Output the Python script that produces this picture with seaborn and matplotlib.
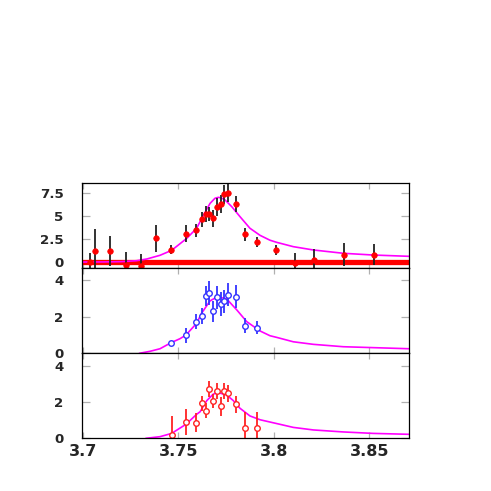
import matplotlib
matplotlib.use("Agg")
import matplotlib.pyplot as plt
import seaborn as sns
import pandas as pd

# ---- data ----
# top panel: data points (x, y, error)
top_x = [3.7035, 3.7065, 3.7144, 3.7225, 3.7305, 3.7382, 3.7463, 3.7542, 3.7593,
         3.7622, 3.7643, 3.7662, 3.7682, 3.7701, 3.7724, 3.7741, 3.7762, 3.7800,
         3.7851, 3.7910, 3.8010, 3.8111, 3.8210, 3.8368, 3.8526]
top_y = [0.00, 1.20, 1.25, -0.30, -0.35, 2.60, 1.37, 3.11, 3.47,
         4.67, 5.25, 5.22, 4.78, 6.01, 6.34, 7.39, 7.57, 6.34,
         3.04, 2.24, 1.37, -0.04, 0.30, 0.80, 0.83]
top_err = [1.00, 2.40, 1.60, 1.40, 1.30, 1.45, 0.50, 0.90, 0.70,
           0.78, 0.87, 0.75, 0.94, 0.94, 1.00, 1.05, 1.00, 0.87,
           0.70, 0.55, 0.55, 1.10, 1.20, 1.25, 1.12]
# top panel: fitted curve
top_curve_x = [3.6995, 3.7100, 3.7200, 3.7280, 3.7335, 3.7404, 3.7465, 3.7544, 3.7596,
               3.7631, 3.7666, 3.7692, 3.7709, 3.7725, 3.7745, 3.7780, 3.7823, 3.7875,
               3.7928, 3.7980, 3.8015, 3.8102, 3.8207, 3.8364, 3.8521, 3.8708]
top_curve_y = [0.03, 0.04, 0.07, 0.17, 0.36, 0.76, 1.30, 2.60, 3.70,
               5.10, 6.40, 6.96, 7.06, 7.00, 6.77, 6.04, 4.96, 3.70,
               2.93, 2.40, 2.17, 1.70, 1.34, 0.98, 0.79, 0.65]

# middle panel
mid_x = [3.7462, 3.7540, 3.7591, 3.7622, 3.7643, 3.7662, 3.7680, 3.7701, 3.7724,
         3.7741, 3.7762, 3.7800, 3.7851, 3.7910]
mid_y = [0.55, 0.98, 1.73, 2.04, 3.11, 3.31, 2.29, 3.05, 2.68,
         2.84, 3.19, 3.09, 1.51, 1.40]
mid_err = [0.12, 0.41, 0.43, 0.45, 0.55, 0.66, 0.59, 0.64, 0.64,
           0.64, 0.62, 0.64, 0.41, 0.36]
mid_curve_x = [3.7296, 3.7352, 3.7404, 3.7462, 3.7509, 3.7540, 3.7596, 3.7622,
               3.7666, 3.7705, 3.7753, 3.7806, 3.7858, 3.7928, 3.7980, 3.8015, 3.8102,
               3.8207, 3.8364, 3.8521, 3.8708]
mid_curve_y = [0.00, 0.11, 0.25, 0.58, 0.80, 1.00, 1.64, 2.19,
               2.86, 3.09, 2.97, 2.37, 1.73, 1.22, 0.96, 0.87, 0.63,
               0.49, 0.36, 0.31, 0.25]

# bottom panel
bot_x = [3.7465, 3.7540, 3.7593, 3.7622, 3.7643, 3.7662, 3.7682, 3.7701, 3.7724,
         3.7741, 3.7762, 3.7800, 3.7851, 3.7910]
bot_y = [0.20, 0.90, 0.86, 1.92, 1.51, 2.69, 2.05, 2.60, 1.77,
         2.60, 2.47, 1.86, 0.57, 0.58]
bot_err = [1.05, 0.73, 0.52, 0.42, 0.41, 0.44, 0.41, 0.43, 0.52,
           0.46, 0.46, 0.46, 0.88, 0.88]
bot_curve_x = [3.7330, 3.7404, 3.7465, 3.7540, 3.7596, 3.7614, 3.7649, 3.7683,
               3.7709, 3.7753, 3.7788, 3.7823, 3.7875, 3.7928, 3.8032, 3.8102, 3.8207,
               3.8364, 3.8521, 3.8708]
bot_curve_y = [0.00, 0.09, 0.27, 0.77, 1.32, 1.46, 2.07, 2.43,
               2.51, 2.38, 2.07, 1.65, 1.23, 1.02, 0.77, 0.60, 0.46,
               0.35, 0.27, 0.22]

x_ticks = [3.7, 3.75, 3.8, 3.85]
x_tick_labels = ["3.7", "3.75", "3.8", "3.85"]
top_yticks = [0, 2.5, 5, 7.5]
top_yticklabels = ["0", "2.5", "5", "7.5"]
low_yticks = [0, 2, 4]
low_yticklabels = ["0", "2", "4"]

# ---- style ----
sns.set_style("white")
plt.rcParams['font.family'] = ['DejaVu Sans']
plt.rcParams['font.weight'] = 'bold'

fig = plt.figure(figsize=(4.91, 4.91), dpi=100)
L, W = 0.1664, 0.6666
ax_top = fig.add_axes([L, 0.4536, W, 0.6273 - 0.4536])
ax_mid = fig.add_axes([L, 0.2804, W, 0.4536 - 0.2804])
ax_bot = fig.add_axes([L, 0.1073, W, 0.2804 - 0.1073])

XLIM = (3.6994, 3.8708)
MAG = "#ff00ff"

# top panel
ax_top.axhline(0, color="#ff0000", lw=3.8, zorder=1)
sns.lineplot(data=pd.DataFrame({"x": top_curve_x, "y": top_curve_y}), x="x", y="y",
             ax=ax_top, color=MAG, lw=1.2, sort=False, estimator=None, zorder=2)
ax_top.errorbar(top_x, top_y, yerr=top_err, fmt="none", ecolor="#222222",
                elinewidth=1.3, capsize=0, zorder=3)
sns.scatterplot(data=pd.DataFrame({"x": top_x, "y": top_y}), x="x", y="y", ax=ax_top,
                color="#ff0000", s=16, edgecolor="#ff0000", linewidth=0.5, zorder=4)
ax_top.set_ylim(-0.65, 8.62)
ax_top.set_yticks(top_yticks)
ax_top.set_yticklabels(top_yticklabels)

# middle panel
sns.lineplot(data=pd.DataFrame({"x": mid_curve_x, "y": mid_curve_y}), x="x", y="y",
             ax=ax_mid, color=MAG, lw=1.2, sort=False, estimator=None, zorder=2)
ax_mid.errorbar(mid_x, mid_y, yerr=mid_err, fmt="none", ecolor="#3333ff",
                elinewidth=1.3, capsize=0, zorder=3)
sns.scatterplot(data=pd.DataFrame({"x": mid_x, "y": mid_y}), x="x", y="y", ax=ax_mid,
                facecolor="white", edgecolor="#3333ff", s=16, linewidth=1.0, zorder=4)
ax_mid.set_ylim(0, 4.64)
ax_mid.set_yticks(low_yticks)
ax_mid.set_yticklabels(low_yticklabels)

# bottom panel
sns.lineplot(data=pd.DataFrame({"x": bot_curve_x, "y": bot_curve_y}), x="x", y="y",
             ax=ax_bot, color=MAG, lw=1.2, sort=False, estimator=None, zorder=2)
ax_bot.errorbar(bot_x, bot_y, yerr=bot_err, fmt="none", ecolor="#ff2222",
                elinewidth=1.3, capsize=0, zorder=3)
sns.scatterplot(data=pd.DataFrame({"x": bot_x, "y": bot_y}), x="x", y="y", ax=ax_bot,
                facecolor="white", edgecolor="#ff2222", s=16, linewidth=1.0, zorder=4)
ax_bot.set_ylim(0, 4.67)
ax_bot.set_yticks(low_yticks)
ax_bot.set_yticklabels(low_yticklabels)

for ax in (ax_top, ax_mid, ax_bot):
    ax.set_xlim(*XLIM)
    ax.set_xticks(x_ticks)
    ax.set_xlabel("")
    ax.set_ylabel("")
    for sp in ax.spines.values():
        sp.set_visible(True)
        sp.set_color("black")
        sp.set_linewidth(0.9)
        sp.set_zorder(5)
    ax.tick_params(axis="y", direction="in", length=6, width=0.9, color="#b0b0b0",
                   left=True, right=True, labelsize=9.6, pad=13)
    ax.tick_params(axis="x", direction="in", length=4.5, width=0.9, color="#b0b0b0",
                   bottom=True, top=True)
    for lab in ax.get_yticklabels():
        lab.set_fontweight("bold")
    ax.set_facecolor("white")
    ax.grid(False)
    if ax.get_legend():
        ax.get_legend().remove()

for ax in (ax_top, ax_mid):
    ax.tick_params(axis="x", labelbottom=False)

ax_bot.set_xticklabels(x_tick_labels)
ax_bot.tick_params(axis="x", labelsize=11.5, pad=4)
for lab in ax_bot.get_xticklabels():
    lab.set_fontweight("bold")

fig.savefig("out.png", dpi=100, facecolor="white")
